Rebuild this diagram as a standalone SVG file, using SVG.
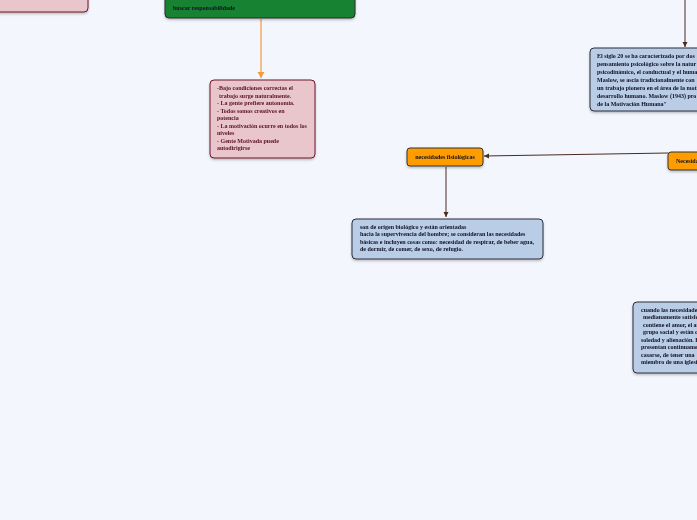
<svg xmlns="http://www.w3.org/2000/svg" width="697" height="520" viewBox="0 0 697 520">
<defs>
<filter id="sh" x="-10%" y="-10%" width="120%" height="130%"><feDropShadow dx="0" dy="1.5" stdDeviation="1" flood-color="#000" flood-opacity="0.25"/></filter>
<marker id="ad" markerWidth="6" markerHeight="6" refX="5" refY="3" orient="auto" markerUnits="userSpaceOnUse"><path d="M0,0.5 L5,3 L0,5.5 Z" fill="#4a2a22"/></marker>
<marker id="ao" markerWidth="8" markerHeight="8" refX="6" refY="4" orient="auto" markerUnits="userSpaceOnUse"><path d="M0,0.5 L6,4 L0,7.5 Z" fill="#f29a3c"/></marker>
<style>
.t{font-family:"Liberation Serif",serif;font-weight:bold;font-size:6px;fill:#111122}
.tp{font-family:"Liberation Serif",serif;font-weight:bold;font-size:6px;fill:#5a1222}
.blue{fill:#b9cde6;stroke:#2e2e3a;stroke-width:1}
.pink{fill:#e8c6cc;stroke:#6e1426;stroke-width:1}
.org{fill:#ff9c00;stroke:#333;stroke-width:1}
.grn{fill:#168232;stroke:#2a2a2a;stroke-width:1}
.c{fill:none;stroke:#4a2a22;stroke-width:1}
</style>
</defs>
<rect width="697" height="520" fill="#f3f6fd"/>
<g id="connectors">
<line x1="261" y1="19" x2="261" y2="78" stroke="#f29a3c" stroke-width="1.2" marker-end="url(#ao)"/>
<line class="c" x1="685" y1="0" x2="685" y2="47" marker-end="url(#ad)"/>
<line class="c" x1="668" y1="153" x2="484" y2="156" marker-end="url(#ad)"/>
<line class="c" x1="446" y1="167" x2="446" y2="217" marker-end="url(#ad)"/>
</g>
<g id="node-pink-top" filter="url(#sh)">
<rect class="pink" x="-10" y="-10" width="98" height="22" rx="4"/>
</g>
<g id="node-green" filter="url(#sh)">
<rect class="grn" x="165" y="-10" width="190" height="28" rx="4"/>
<text class="t" x="173" y="10">buscar responsabilidade</text>
</g>
<g id="node-pink" filter="url(#sh)">
<rect class="pink" x="210" y="80" width="105" height="78" rx="4"/>
<text class="tp" x="217" y="90">-Bajo condiciones correctas el</text>
<text class="tp" x="219" y="98">trabajo surge naturalmente.</text>
<text class="tp" x="217" y="105">- La gente prefiere autonomía.</text>
<text class="tp" x="217" y="113">- Todos somos creativos en</text>
<text class="tp" x="217" y="120">potencia</text>
<text class="tp" x="217" y="128">- La motivación ocurre en todos los</text>
<text class="tp" x="217" y="135">niveles</text>
<text class="tp" x="217" y="143">- Gente Motivada puede</text>
<text class="tp" x="217" y="150">autodirigirse</text>
</g>
<g id="node-siglo20" filter="url(#sh)">
<rect class="blue" x="590" y="48" width="130" height="63" rx="4"/>
<text class="t" x="597" y="58">El siglo 20 se ha caracterizado por dos</text>
<text class="t" x="597" y="66">pensamiento psicológico sobre la natur</text>
<text class="t" x="597" y="74">psicodinámico, el conductual y el huma</text>
<text class="t" x="597" y="82">Maslow, se ascia tradicionalmente con</text>
<text class="t" x="597" y="90">un trabajo pionero en el área de la moti</text>
<text class="t" x="597" y="98">desarrollo humano.  Maslow (1943) pro</text>
<text class="t" x="597" y="106">de la Motivación Humana"</text>
</g>
<g id="node-fisiologicas" filter="url(#sh)">
<rect class="org" x="407" y="148" width="76" height="18" rx="3"/>
<text class="t" x="445" y="159" text-anchor="middle">necesidades fisiológicas</text>
</g>
<g id="node-necesidades" filter="url(#sh)">
<rect class="org" x="668" y="152" width="60" height="18" rx="3"/>
<text class="t" x="676" y="163">Necesida</text>
</g>
<g id="node-origen" filter="url(#sh)">
<rect class="blue" x="352" y="219" width="191" height="40" rx="4"/>
<text class="t" x="360" y="229">son de origen biológico y están orientadas</text>
<text class="t" x="360" y="236">hacia la supervivencia del hombre; se consideran las necesidades</text>
<text class="t" x="360" y="244">básicas e incluyen cosas como: necesidad de respirar, de beber agua,</text>
<text class="t" x="360" y="251">de dormir, de comer, de sexo, de refugio.</text>
</g>
<g id="node-cuando" filter="url(#sh)">
<rect class="blue" x="633" y="302" width="90" height="71" rx="4"/>
<text class="t" x="641" y="312">cuando las necesidades</text>
<text class="t" x="643" y="319">medianamente satisfe</text>
<text class="t" x="643" y="327">contiene el amor, el af</text>
<text class="t" x="643" y="334">grupo social y están o</text>
<text class="t" x="641" y="342">soledad y alienación. E</text>
<text class="t" x="641" y="349">presentan continuamen</text>
<text class="t" x="641" y="357">casarse, de  tener una</text>
<text class="t" x="641" y="364">miembro de una iglesi</text>
</g>
</svg>
